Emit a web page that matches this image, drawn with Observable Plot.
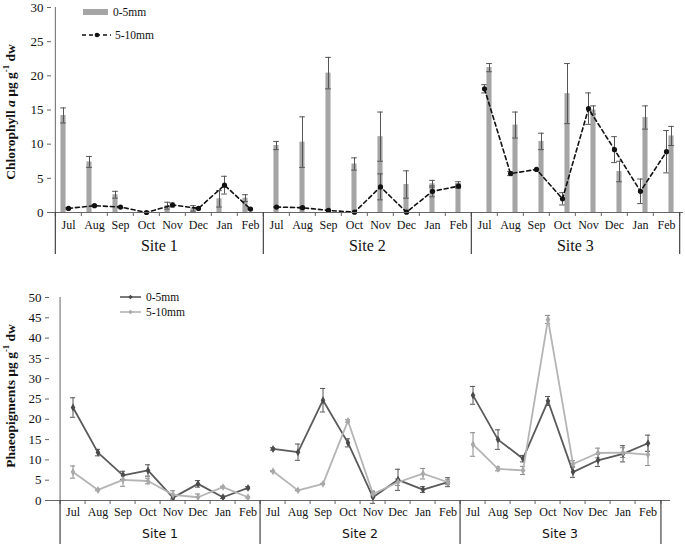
<!DOCTYPE html>
<html>
<head>
<meta charset="utf-8">
<script src="https://cdn.jsdelivr.net/npm/d3@7"></script>
<script src="https://cdn.jsdelivr.net/npm/@observablehq/plot@0.6"></script>
<style>
  body { margin: 0; background: #fff; }
  #wrap { position: relative; width: 685px; height: 544px; overflow: hidden; background: #fff; }
  #wrap svg.plot { display: block; }
  .ytitle { position: absolute; font-family: "Liberation Serif", "DejaVu Serif", serif; font-weight: bold; font-size: 13.5px; white-space: nowrap; transform: translate(-50%, -50%) rotate(-90deg); color: #111; }
  .ytitle sup { font-size: 0.65em; }
  .leg { position: absolute; font-family: "Liberation Serif", "DejaVu Serif", serif; font-size: 11.5px; color: #111; white-space: nowrap; display: flex; align-items: center; }
  .leg svg { display: block; margin-right: 3px; }
</style>
</head>
<body>
<div id="wrap"></div>
<script>
// ---------- data ----------
const months = ["Jul", "Aug", "Sep", "Oct", "Nov", "Dec", "Jan", "Feb"];
const sites = ["Site 1", "Site 2", "Site 3"];

// Chlorophyll a (µg g-1 dw), order: Site 1 Jul..Feb, Site 2 Jul..Feb, Site 3 Jul..Feb
const chl0_5 = [14.2, 7.4, 2.6, 0.0, 1.0, 0.6, 2.0, 2.1,
                9.8, 10.3, 20.4, 7.1, 11.1, 4.1, 4.2, 4.2,
                21.2, 12.8, 10.4, 17.4, 15.0, 6.0, 13.9, 11.2];
const chl0_5Err = [1.1, 0.8, 0.5, 0.0, 0.5, 0.4, 1.2, 0.5,
                   0.6, 3.7, 2.3, 0.9, 3.6, 2.0, 0.5, 0.3,
                   0.6, 1.9, 1.2, 4.4, 0.6, 1.5, 1.7, 1.4];
const chl5_10 = [0.6, 1.0, 0.8, 0.0, 1.1, 0.6, 4.0, 0.5,
                 0.8, 0.7, 0.3, 0.05, 3.75, 0.05, 3.1, 3.85,
                 18.1, 5.7, 6.3, 2.0, 15.2, 9.2, 3.1, 8.9];
const chl5_10Err = [0.1, 0.1, 0.1, 0.0, 0.3, 0.1, 1.3, 0.1,
                    0.1, 0.1, 0.0, 0.0, 1.9, 0.0, 0.8, 0.3,
                    0.6, 0.3, 0.0, 0.9, 2.3, 1.9, 1.8, 3.1];

// Phaeopigments (µg g-1 dw)
const ph0_5 = [22.9, 11.8, 6.2, 7.4, 0.7, 4.1, 0.8, 3.1,
               12.7, 11.9, 24.7, 14.2, 0.8, 5.1, 2.7, 4.5,
               25.9, 15.0, 10.3, 24.5, 7.0, 9.9, 11.5, 14.1];
const ph0_5Err = [2.4, 0.8, 1.0, 1.4, 0.6, 0.8, 0.3, 0.3,
                  0.3, 2.0, 2.9, 1.0, 1.5, 2.6, 0.7, 1.1,
                  2.2, 2.4, 0.8, 1.1, 1.3, 1.5, 2.0, 2.0];
const ph5_10 = [7.0, 2.6, 5.1, 4.8, 1.4, 0.8, 3.3, 0.8,
                7.2, 2.5, 4.1, 19.6, 1.6, 4.5, 6.6, 4.5,
                13.8, 7.8, 7.4, 44.6, 9.0, 11.7, 11.8, 11.3];
const ph5_10Err = [1.5, 0.2, 1.6, 0.7, 1.0, 0.8, 0.2, 0.2,
                   0.1, 0.1, 0.1, 0.3, 0.5, 0.8, 1.3, 0.6,
                   2.9, 0.5, 1.0, 1.0, 0.8, 1.2, 1.2, 2.7];

const chlTicks = [0, 5, 10, 15, 20, 25, 30];
const phTicks = [0, 5, 10, 15, 20, 25, 30, 35, 40, 45, 50];

// ---------- helpers ----------
const keys = sites.flatMap(s => months.map(m => s + "|" + m));
const rows = (vals, errs) => keys.map((k, i) => ({key: k, site: sites[Math.floor(i / 8)], si: Math.floor(i / 8), v: vals[i], e: errs[i]}));
const monthOf = k => k.split("|")[1];
const serif = "'Liberation Serif', 'DejaVu Serif', serif";
const sans = "'DejaVu Sans', sans-serif";

function frameMarks({bw, divLen, siteDy, siteFont, siteSize, monthPad, monthSize, yTicks, ySize}) {
  const firstKeys = sites.map(s => s + "|Jul");
  return [
    Plot.ruleY([0], {stroke: "#666", strokeWidth: 1}),
    Plot.ruleX([keys[0]], {dx: -bw / 2, stroke: "#666", strokeWidth: 1}),
    Plot.axisY({ticks: yTicks, tickSize: 4, tickPadding: 4, label: null, fontSize: ySize, fontFamily: serif, stroke: "#666", fill: "#111"}),
    // small boundary ticks
    Plot.axisX(keys, {tickSize: 4, dx: -bw / 2, tickFormat: () => "", stroke: "#666", label: null}),
    Plot.axisX([keys[keys.length - 1]], {tickSize: 4, dx: bw / 2, tickFormat: () => "", stroke: "#666", label: null}),
    // site dividers
    Plot.axisX(firstKeys, {tickSize: divLen, dx: -bw / 2, tickFormat: () => "", stroke: "#444", strokeWidth: 1.2, label: null}),
    Plot.axisX([keys[keys.length - 1]], {tickSize: divLen, dx: bw / 2, tickFormat: () => "", stroke: "#444", strokeWidth: 1.2, label: null}),
    // month labels
    Plot.axisX(keys, {tickSize: 0, tickPadding: monthPad, tickFormat: monthOf, fontSize: monthSize, fontFamily: serif, fill: "#111", label: null}),
    // site labels
    Plot.text(sites, {x: s => s + "|Nov", dx: -bw / 2, frameAnchor: "bottom", dy: siteDy, text: d => d, fontSize: siteSize, fontFamily: siteFont, fill: "#111"})
  ];
}

function errMarks(data, {dx = 0, stroke, capHalf, bw}) {
  const d = data.filter(r => r.e > 0);
  const inset = bw / 2 - capHalf;
  return [
    Plot.ruleX(d, {x: "key", y1: r => r.v - r.e, y2: r => r.v + r.e, dx, stroke, strokeWidth: 1}),
    Plot.tickY(d, {x: "key", y: r => r.v + r.e, dx, stroke, strokeWidth: 1, insetLeft: inset, insetRight: inset}),
    Plot.tickY(d, {x: "key", y: r => r.v - r.e, dx, stroke, strokeWidth: 1, insetLeft: inset, insetRight: inset})
  ];
}

const wrap = document.getElementById("wrap");

// ---------- top panel: chlorophyll a ----------
{
  const W = 685, H = 262, ml = 51, mr = 2, mt = 7, mb = 50;
  const bw = (W - ml - mr) / keys.length;
  const A = rows(chl0_5, chl0_5Err);
  const B = rows(chl5_10, chl5_10Err);
  const barW = 5.4;
  const marks = [];
  sites.forEach((s, si) => {
    const dx = (si - 1) * 5;
    const sub = A.filter(r => r.si === si);
    marks.push(Plot.barY(sub, {x: "key", y: "v", fill: "#a5a5a5", insetLeft: bw / 2 - barW / 2, insetRight: bw / 2 - barW / 2, dx}));
    marks.push(...errMarks(sub, {dx, stroke: "#555", capHalf: 3, bw}));
  });
  marks.push(...errMarks(B, {stroke: "#555", capHalf: 3, bw}));
  marks.push(Plot.lineY(B, {x: "key", y: "v", z: "site", stroke: "#111", strokeWidth: 1.6, strokeDasharray: "4,3"}));
  marks.push(Plot.dot(B, {x: "key", y: "v", r: 2.6, fill: "#111", stroke: "none"}));
  marks.push(...frameMarks({bw, divLen: 42, siteDy: 38, siteFont: serif, siteSize: 16, monthPad: 8, monthSize: 12, yTicks: chlTicks, ySize: 13}));
  const svg = Plot.plot({
    width: W, height: H, marginLeft: ml, marginRight: mr, marginTop: mt, marginBottom: mb,
    x: {type: "band", domain: keys, padding: 0},
    y: {domain: [0, 30]},
    style: {fontFamily: serif, background: "white", overflow: "visible"},
    marks
  });
  svg.classList.add("plot");
  wrap.appendChild(svg);
}

// ---------- bottom panel: phaeopigments ----------
{
  const W = 685, H = 282, ml = 49, mr = 15, mt = 35, mb = 44;
  const bw = (W - ml - mr) / keys.length;
  const A = rows(ph0_5, ph0_5Err);
  const B = rows(ph5_10, ph5_10Err);
  const marks = [];
  marks.push(...errMarks(A, {stroke: "#555", capHalf: 3, bw}));
  marks.push(...errMarks(B, {stroke: "#888", capHalf: 3, bw}));
  marks.push(Plot.lineY(A, {x: "key", y: "v", z: "site", stroke: "#5a5a5a", strokeWidth: 1.8}));
  marks.push(Plot.dot(A, {x: "key", y: "v", r: 2.4, symbol: "diamond", fill: "#4a4a4a"}));
  marks.push(Plot.lineY(B, {x: "key", y: "v", z: "site", stroke: "#b4b4b4", strokeWidth: 1.8}));
  marks.push(Plot.dot(B, {x: "key", y: "v", r: 2.4, symbol: "diamond", fill: "#a8a8a8"}));
  marks.push(...frameMarks({bw, divLen: 46, siteDy: 37, siteFont: sans, siteSize: 12.5, monthPad: 7, monthSize: 12, yTicks: phTicks, ySize: 13}));
  const svg = Plot.plot({
    width: W, height: H, marginLeft: ml, marginRight: mr, marginTop: mt, marginBottom: mb,
    x: {type: "band", domain: keys, padding: 0},
    y: {domain: [0, 50]},
    style: {fontFamily: serif, background: "white", overflow: "visible"},
    marks
  });
  svg.classList.add("plot");
  wrap.appendChild(svg);
}

// ---------- titles & legends ----------
function addHTML(html) {
  const t = document.createElement("template");
  t.innerHTML = html.trim();
  const el = t.content.firstChild;
  wrap.appendChild(el);
  return el;
}
addHTML(`<div class="ytitle" style="left:10px;top:112px">Chlorophyll <i>a</i> µg g<sup>-1</sup> dw</div>`);
addHTML(`<div class="ytitle" style="left:10px;top:396px">Phaeopigments µg g<sup>-1</sup> dw</div>`);

addHTML(`<div class="leg" style="left:83px;top:4px;height:16px"><svg width="27" height="8"><rect x="0" y="1" width="25" height="6" fill="#a5a5a5"/></svg>0-5mm</div>`);
addHTML(`<div class="leg" style="left:82px;top:27px;height:16px"><svg width="30" height="8"><line x1="0" y1="4" x2="29" y2="4" stroke="#111" stroke-width="1.5" stroke-dasharray="4,3"/><circle cx="15" cy="4" r="2.3" fill="#111"/></svg>5-10mm</div>`);

addHTML(`<div class="leg" style="left:120px;top:289px;height:16px"><svg width="23" height="8"><line x1="0" y1="4" x2="21" y2="4" stroke="#5a5a5a" stroke-width="1.6"/><path d="M10.5,1.8 L12.7,4 L10.5,6.2 L8.3,4Z" fill="#4a4a4a"/></svg>0-5mm</div>`);
addHTML(`<div class="leg" style="left:120px;top:304px;height:16px"><svg width="23" height="8"><line x1="0" y1="4" x2="21" y2="4" stroke="#b4b4b4" stroke-width="1.6"/><path d="M10.5,1.8 L12.7,4 L10.5,6.2 L8.3,4Z" fill="#a8a8a8"/></svg>5-10mm</div>`);
</script>
</body>
</html>
